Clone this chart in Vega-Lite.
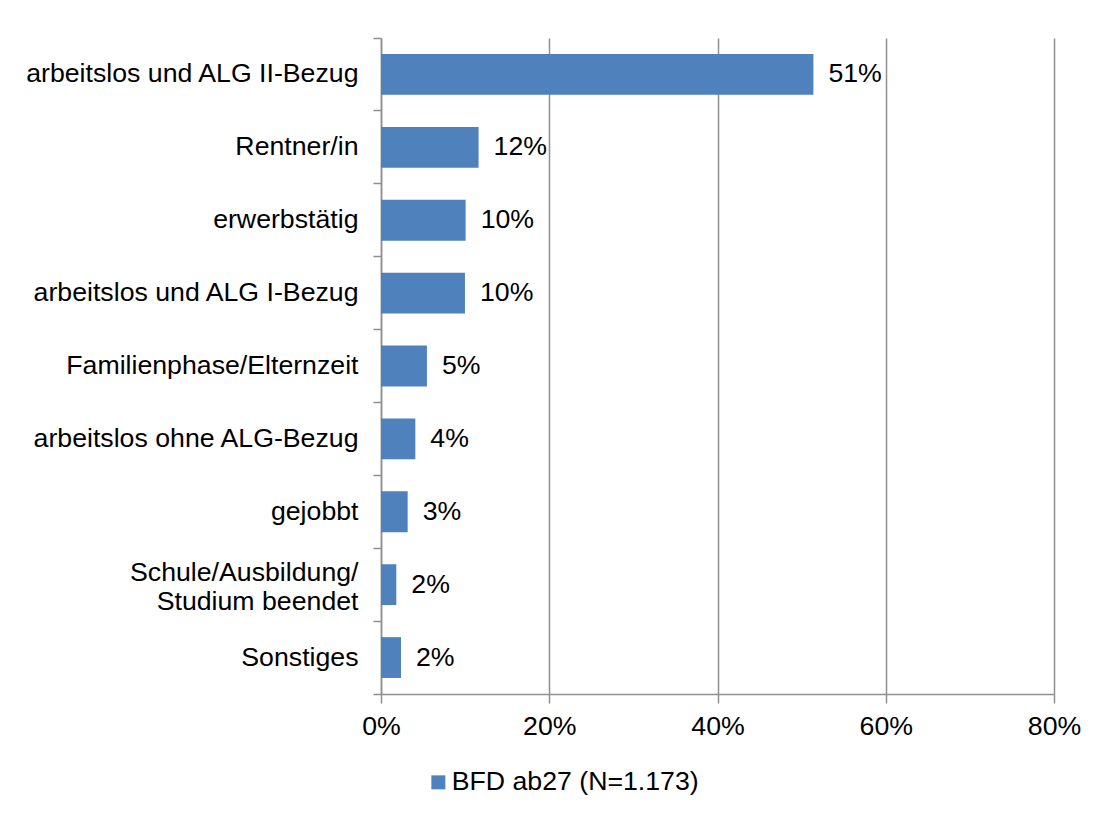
{
  "$schema": "https://vega.github.io/schema/vega-lite/v6.json",
  "width": 673,
  "height": 656,
  "autosize": "none",
  "padding": {"left": 381, "top": 38, "right": 47, "bottom": 120},
  "background": "white",
  "config": {
    "font": "Liberation Sans",
    "view": {"stroke": null}
  },
  "data": {
    "values": [
      {"kategorie": "arbeitslos und ALG II-Bezug", "anteil": 0.514, "serie": "BFD ab27 (N=1.173)"},
      {"kategorie": "Rentner/in", "anteil": 0.116, "serie": "BFD ab27 (N=1.173)"},
      {"kategorie": "erwerbstätig", "anteil": 0.1006, "serie": "BFD ab27 (N=1.173)"},
      {"kategorie": "arbeitslos und ALG I-Bezug", "anteil": 0.0998, "serie": "BFD ab27 (N=1.173)"},
      {"kategorie": "Familienphase/Elternzeit", "anteil": 0.0546, "serie": "BFD ab27 (N=1.173)"},
      {"kategorie": "arbeitslos ohne ALG-Bezug", "anteil": 0.0408, "serie": "BFD ab27 (N=1.173)"},
      {"kategorie": "gejobbt", "anteil": 0.0317, "serie": "BFD ab27 (N=1.173)"},
      {"kategorie": "Schule/Ausbildung/ Studium beendet", "anteil": 0.0182, "serie": "BFD ab27 (N=1.173)"},
      {"kategorie": "Sonstiges", "anteil": 0.0238, "serie": "BFD ab27 (N=1.173)"}
    ]
  },
  "encoding": {
    "y": {
      "field": "kategorie",
      "type": "nominal",
      "sort": null,
      "scale": {"paddingInner": 0, "paddingOuter": 0},
      "axis": {
        "title": null,
        "grid": false,
        "domainColor": "#8f8f8f",
        "domainWidth": 1.5,
        "tickColor": "#8f8f8f",
        "tickWidth": 1.5,
        "tickSize": 8,
        "bandPosition": 1,
        "tickExtra": true,
        "labelPadding": 15,
        "labelFontSize": 26.7,
        "labelColor": "#000000",
        "labelLimit": 500,
        "labelLineHeight": 29,
        "labelOffset": {"condition": {"test": "datum.value == 'Schule/Ausbildung/ Studium beendet'", "value": -12}, "value": 0},
        "labelExpr": "datum.label == 'Schule/Ausbildung/ Studium beendet' ? ['Schule/Ausbildung/', 'Studium beendet'] : datum.label"
      }
    }
  },
  "layer": [
    {
      "mark": {"type": "bar", "height": {"band": 0.56}},
      "encoding": {
        "x": {
          "field": "anteil",
          "type": "quantitative",
          "scale": {"domain": [0, 0.8], "nice": false},
          "axis": {
            "title": null,
            "values": [0, 0.2, 0.4, 0.6, 0.8],
            "format": ".0%",
            "grid": true,
            "gridColor": "#8f8f8f",
            "gridWidth": 1.5,
            "domainColor": "#8f8f8f",
            "domainWidth": 1.5,
            "tickColor": "#8f8f8f",
            "tickWidth": 1.5,
            "tickSize": 9,
            "labelPadding": 10,
            "labelFontSize": 26.7,
            "labelColor": "#000000",
            "labelFlush": false
          }
        },
        "color": {
          "field": "serie",
          "type": "nominal",
          "scale": {"range": ["#4F81BD"]},
          "legend": {
            "title": null,
            "orient": "none",
            "legendX": 44,
            "legendY": 731,
            "padding": 0,
            "symbolType": "square",
            "symbolSize": 196,
            "symbolStrokeWidth": 0,
            "labelFontSize": 26.7,
            "labelColor": "#000000",
            "labelOffset": 0,
            "labelLimit": 500
          }
        }
      }
    },
    {
      "mark": {"type": "text", "align": "left", "baseline": "middle", "dx": 15, "fontSize": 26.7, "color": "#000000"},
      "encoding": {
        "x": {"field": "anteil", "type": "quantitative"},
        "text": {"field": "anteil", "type": "quantitative", "format": ".0%"}
      }
    }
  ]
}
